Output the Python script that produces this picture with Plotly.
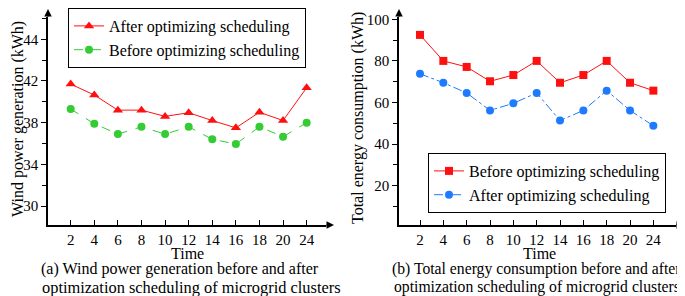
import plotly.graph_objects as go

# Reference canvas size and the browser's default 8px page margin
REF_W, REF_H = 685, 296
OFF = 8
W, H = REF_W - OFF, REF_H - OFF

time_labels = ["2", "4", "6", "8", "10", "12", "14", "16", "18", "20", "24"]

wind_after = [41.7, 40.65, 39.2, 39.2, 38.6, 38.95, 38.2, 37.5, 39.0, 38.2, 41.35]
wind_before = [39.3, 37.9, 36.9, 37.6, 36.9, 37.6, 36.4, 35.95, 37.6, 36.65, 38.0]

energy_before = [92.5, 80.0, 77.1, 70.2, 73.2, 80.0, 69.5, 73.2, 80.0, 69.5, 65.7]
energy_after = [73.8, 69.5, 64.6, 56.2, 59.6, 64.6, 51.3, 56.2, 65.7, 56.2, 48.8]

wind_tickvals = [30, 34, 38, 42, 46]
wind_ticktext = ["30", "34", "38", "42", "44"]
wind_minor = [32, 36, 40, 44, 48]
energy_tickvals = [20, 40, 60, 80, 100]
energy_minor = [10, 30, 50, 70, 90]

FONT = "Liberation Serif"
RED = "#FF1010"
GREEN = "#33CC33"
BLUE = "#1E7BFF"


def px(x):
    """page x (reference pixels) -> paper fraction"""
    return (x - OFF) / W


def py(y):
    """page y (reference pixels, from top) -> paper fraction"""
    return (REF_H - y) / H


fig = go.Figure()

fig.add_trace(go.Scatter(
    x=time_labels, y=wind_after, mode="lines+markers", name="After optimizing scheduling",
    line=dict(color=RED, width=1), marker=dict(symbol="triangle-up", size=9, color=RED),
    xaxis="x", yaxis="y", legend="legend"))
fig.add_trace(go.Scatter(
    x=time_labels, y=wind_before, mode="lines+markers", name="Before optimizing scheduling",
    line=dict(color=GREEN, width=1, dash="dash"), marker=dict(symbol="circle", size=8, color=GREEN),
    xaxis="x", yaxis="y", legend="legend"))
fig.add_trace(go.Scatter(
    x=time_labels, y=energy_before, mode="lines+markers", name="Before optimizing scheduling",
    line=dict(color=RED, width=1), marker=dict(symbol="square", size=8, color=RED),
    xaxis="x2", yaxis="y2", legend="legend2"))
fig.add_trace(go.Scatter(
    x=time_labels, y=energy_after, mode="lines+markers", name="After optimizing scheduling",
    line=dict(color=BLUE, width=1, dash="dashdot"), marker=dict(symbol="circle", size=8, color=BLUE),
    xaxis="x2", yaxis="y2", legend="legend2"))

Y_TOP, Y_BOT = 17, 225
ydom = [py(Y_BOT), py(Y_TOP)]


def wind_val(p):
    return 30 + (206 - p) / 10.42


def energy_val(p):
    return (227.3 - p) / 2.08


axis_common = dict(showline=True, linecolor="black", linewidth=1.5, showgrid=False, zeroline=False,
                   tickfont=dict(family=FONT, size=15, color="black"), tickcolor="black")

fig.update_layout(
    width=W, height=H, margin=dict(l=0, r=0, t=0, b=0, autoexpand=False),
    paper_bgcolor="white", plot_bgcolor="white",
    font=dict(family=FONT, color="black"),
    xaxis=dict(domain=[px(48), px(326)], type="category", range=[-0.962, 10.82],
               ticks="inside", ticklen=5, tickwidth=1.2, anchor="y", **axis_common),
    yaxis=dict(domain=ydom, range=[wind_val(Y_BOT), wind_val(Y_TOP)],
               tickvals=wind_tickvals, ticktext=wind_ticktext,
               ticks="outside", ticklen=5, tickwidth=1.2, anchor="x",
               minor=dict(tickvals=wind_minor, ticks="outside", ticklen=4, tickcolor="black", tickwidth=1.2),
               **axis_common),
    xaxis2=dict(domain=[px(399), px(676)], type="category", range=[-0.9, 10.97],
                ticks="inside", ticklen=5, tickwidth=1.2, anchor="y2", **axis_common),
    yaxis2=dict(domain=ydom, range=[energy_val(Y_BOT), energy_val(Y_TOP)], tickvals=energy_tickvals,
                ticks="outside", ticklen=5, tickwidth=1.2, anchor="x2",
                minor=dict(tickvals=energy_minor, ticks="outside", ticklen=4, tickcolor="black", tickwidth=1.2),
                **axis_common),
    legend=dict(x=px(68), y=1.0, xanchor="left", yanchor="top", bordercolor="black", borderwidth=1,
                bgcolor="white", font=dict(family=FONT, size=16, color="black"), itemwidth=30),
    legend2=dict(x=px(428), y=py(153), xanchor="left", yanchor="top", bordercolor="black", borderwidth=1,
                 bgcolor="white", font=dict(family=FONT, size=16, color="black"), itemwidth=30),
    showlegend=True,
)

annotations = []
# axis arrows (tip position, tail offset in px)
for (tx, ty, ax, ay) in [(48, 9, 0, 9), (334, 225, -9, 0), (399, 9, 0, 9), (684, 225, -9, 0)]:
    annotations.append(dict(xref="paper", yref="paper", x=px(tx), y=py(ty), ax=ax, ay=ay,
                            showarrow=True, arrowhead=2, arrowsize=1, arrowwidth=1.5,
                            arrowcolor="black", text="", standoff=0))


def txt(s, x, y, size=16, xanchor="center", angle=0):
    annotations.append(dict(xref="paper", yref="paper", x=px(x), y=py(y), text=s, showarrow=False,
                            xanchor=xanchor, yanchor="middle", textangle=angle,
                            font=dict(family=FONT, size=size, color="black")))


txt("Time", 187, 253)
txt("Time", 539, 253)
txt("(a) Wind power generation before and after", 39, 269, size=16, xanchor="left")
txt("optimization scheduling of microgrid clusters", 40, 287, size=16.4, xanchor="left")
txt("(b) Total energy consumption before and after", 390, 269, size=15.7, xanchor="left")
txt("optimization scheduling of microgrid clusters", 392, 287, size=15.7, xanchor="left")
txt("Wind power generation (kWh)", 18, 119, size=16, angle=-90)
txt("Total energy consumption (kWh)", 358, 118, size=16, angle=-90)

fig.update_layout(annotations=annotations)

fig.write_html("out.html")
